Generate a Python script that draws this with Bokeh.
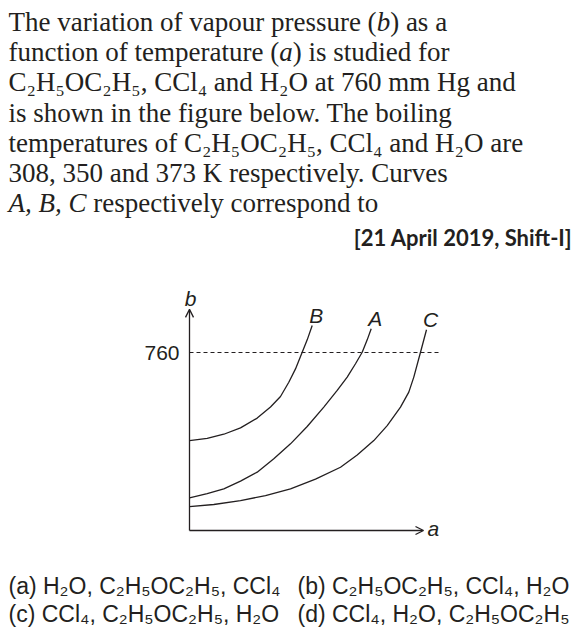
from bokeh.plotting import figure
from bokeh.models import Range1d, Arrow, OpenHead
from bokeh.core.properties import value
from bokeh.embed import file_html
from bokeh.resources import INLINE

# ---------------- content ----------------
# question lines: list of (text, style) segments; style "r" roman, "i" italic
question_lines = [
    [("The variation of vapour pressure (", "r"), ("b", "i"), (") as a", "r")],
    [("function of temperature (", "r"), ("a", "i"), (") is studied for", "r")],
    [("C₂H₅OC₂H₅, CCl₄ and H₂O at 760 mm Hg and", "r")],
    [("is shown in the figure below. The boiling", "r")],
    [("temperatures of C₂H₅OC₂H₅, CCl₄ and H₂O are", "r")],
    [("308, 350 and 373 K respectively. Curves", "r")],
    [("A, B, C", "i"), (" respectively correspond to", "r")],
]
source_tag = "[21 April 2019, Shift-I]"
options_left = ["(a) H₂O, C₂H₅OC₂H₅, CCl₄", "(c) CCl₄, C₂H₅OC₂H₅, H₂O"]
options_right = ["(b) C₂H₅OC₂H₅, CCl₄, H₂O", "(d) CCl₄, H₂O, C₂H₅OC₂H₅"]

# ---------------- chart data (schematic: temperature a, vapour pressure b in mm Hg) ----------------
curve_names = ["B", "A", "C"]
curve_B_a = [0, 17.7, 34.3, 51, 67.7, 81, 91, 99.3, 106, 112.7, 117.7, 122.7]
curve_B_b = [384, 393, 411, 438, 480, 527, 572, 633, 690, 761, 814, 875]
curve_A_a = [0, 17.7, 34.3, 51, 67.7, 84.3, 101, 117.7, 134.3, 147.7, 157.7, 166, 172.7, 177.7, 181.7]
curve_A_b = [139, 157, 178, 211, 249, 306, 370, 444, 527, 598, 655, 712, 761, 814, 861]
curve_C_a = [0, 24.3, 51, 76, 101, 126, 151, 167.7, 184.3, 197.7, 211, 219.3, 224.3, 231, 237]
curve_C_b = [102, 111, 128, 149, 178, 219, 270, 322, 384, 448, 527, 591, 655, 761, 857]
ref_pressure = 760
ref_label = "760"
axis_a_max = 234
axis_b_max = 944
dash_a_max = 251
x_label = "a"
y_label = "b"

# ---------------- layout helpers ----------------
W, H = 580, 640
INK = "#231f20"
SERIF = "Liberation Serif"
SANS = "Liberation Sans"
Q_SIZE = 27
MID = 0.34  # distance (in em) from alphabetic baseline up to the em-box middle

ROMAN = {"T": 611, "h": 500, "e": 444, " ": 250, "v": 500, "a": 444, "r": 333, "i": 278,
         "t": 278, "o": 500, "n": 500, "f": 333, "p": 500, "u": 500, "s": 389, "(": 333,
         ")": 333, "c": 444, "m": 778, ",": 250, "d": 500, "l": 278, "y": 500, "b": 500}
ITALIC = {"a": 500, "b": 500, "A": 611, "B": 611, "C": 667, ",": 250, " ": 250}


def text_width(s, style):
    table = ITALIC if style == "i" else ROMAN
    return sum(table.get(ch, 500) for ch in s) / 1000.0 * Q_SIZE


p = figure(width=W, height=H, x_range=Range1d(0, W), y_range=Range1d(H, 0),
           output_backend="svg", toolbar_location=None, min_border=0,
           x_axis_location=None, y_axis_location=None)
p.grid.visible = False
p.outline_line_color = None
p.background_fill_color = "white"
p.border_fill_color = "white"

# chart coordinate system: a=0 at page x 189 (1 unit per px); b=0 at page y 530, 760 at page y 352
X0, Y0, Y760 = 189, 530, 352
px_per_b = (Y0 - Y760) / ref_pressure
p.extra_x_ranges = {"ca": Range1d(-X0, W - X0)}
p.extra_y_ranges = {"cb": Range1d((Y0 - H) / px_per_b, Y0 / px_per_b)}

# question text (positions are alphabetic baselines, drawn with the em-box middle)
baselines = [31, 61, 91, 122, 152, 182, 212]
for line, yb in zip(question_lines, baselines):
    x = 8.0
    for seg, style in line:
        stripped = seg.lstrip(" ")
        x += text_width(seg[:len(seg) - len(stripped)], style)
        p.text(x=[x], y=[yb - MID * Q_SIZE], text=[stripped], text_font=value(SERIF),
               text_font_size=f"{Q_SIZE}px",
               text_font_style="italic" if style == "i" else "normal",
               text_color=INK, text_align="left", text_baseline="middle")
        x += text_width(stripped, style)

p.text(x=[572], y=[244 - MID * 22], text=[source_tag], text_font=value("Lato"),
       text_font_size="22px", text_font_style="bold", text_color=INK, text_align="right",
       text_baseline="middle")

# options
O_SIZE = 23
for txt, yb in zip(options_left, [593, 621]):
    p.text(x=[8], y=[yb - MID * O_SIZE], text=[txt], text_font=value(SANS),
           text_font_size=f"{O_SIZE}px", text_color=INK, text_align="left", text_baseline="middle")
for txt, yb in zip(options_right, [593, 621]):
    p.text(x=[297], y=[yb - MID * O_SIZE], text=[txt], text_font=value(SANS),
           text_font_size=f"{O_SIZE}px", text_color=INK, text_align="left", text_baseline="middle")

# chart
rk = dict(x_range_name="ca", y_range_name="cb")
p.line([0, dash_a_max], [ref_pressure, ref_pressure], line_color=INK, line_width=1,
       line_dash="4 3", **rk)
curves = [(curve_B_a, curve_B_b), (curve_A_a, curve_A_b), (curve_C_a, curve_C_b)]
for name, (ca, cb) in zip(curve_names, curves):
    p.line(ca, cb, line_color=INK, line_width=1.3, **rk)
    p.text(x=[ca[-1] + 4], y=[cb[-1] + (3 + MID * 21) / px_per_b], text=[name],
           text_font=value(SANS), text_font_size="21px", text_font_style="italic",
           text_color=INK, text_align="center", text_baseline="middle", **rk)

p.add_layout(Arrow(end=OpenHead(size=8, line_width=1.3, line_color=INK),
                   x_start=0, y_start=0, x_end=0, y_end=axis_b_max,
                   line_color=INK, line_width=1.3, **rk))
p.add_layout(Arrow(end=OpenHead(size=8, line_width=1.3, line_color=INK),
                   x_start=0, y_start=0, x_end=axis_a_max, y_end=0,
                   line_color=INK, line_width=1.3, **rk))

p.text(x=[-10], y=[ref_pressure], text=[ref_label], text_font=value(SANS), text_font_size="21px",
       text_color=INK, text_align="right", text_baseline="middle", **rk)
p.text(x=[1], y=[axis_b_max + (4 + MID * 21) / px_per_b], text=[y_label], text_font=value(SANS),
       text_font_size="21px", text_font_style="italic", text_color=INK, text_align="center",
       text_baseline="middle", **rk)
p.text(x=[axis_a_max + 4], y=[(-5 + MID * 21) / px_per_b], text=[x_label],
       text_font=value(SANS), text_font_size="21px", text_font_style="italic", text_color=INK,
       text_align="left", text_baseline="middle", **rk)

open("out.html", "w").write(file_html(p, INLINE))
